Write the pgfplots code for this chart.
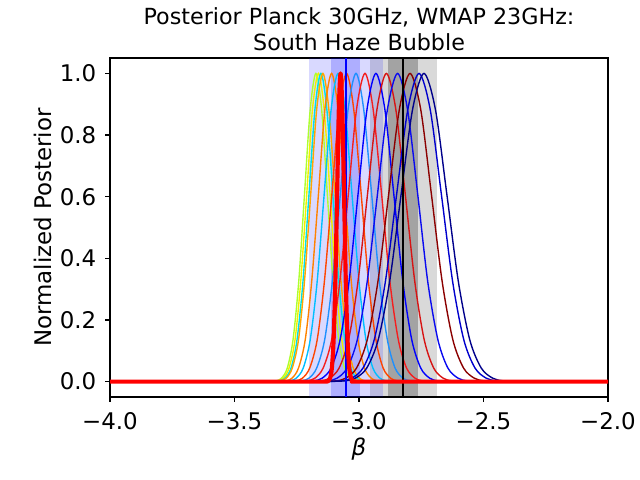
\documentclass[border=0pt]{standalone}
\usepackage{pgfplots}
\pgfplotsset{compat=1.18}
\usepackage{fontspec}
\setmainfont{DejaVu Sans}
\definecolor{cgy}{RGB}{173,255,47}
\definecolor{cyl}{RGB}{240,240,0}
\definecolor{ccy}{RGB}{0,225,230}
\definecolor{cor}{RGB}{255,165,0}
\definecolor{cdo}{RGB}{255,130,0}
\definecolor{cds}{RGB}{0,191,255}
\definecolor{corr}{RGB}{255,69,0}
\definecolor{cdb}{RGB}{30,144,255}
\definecolor{crd}{RGB}{245,30,30}
\definecolor{cbl}{RGB}{0,0,255}
\definecolor{crd2}{RGB}{215,20,20}
\definecolor{cbl2}{RGB}{10,10,240}
\definecolor{cdr}{RGB}{139,0,0}
\definecolor{cmb}{RGB}{0,0,205}
\definecolor{cnv}{RGB}{0,0,139}
\newcommand{\fs}{\fontsize{16bp}{19.2bp}\selectfont}
\newcommand{\ft}{\fontsize{16.5bp}{19.8bp}\selectfont}
\begin{document}
\begin{tikzpicture}
\path[use as bounding box] (0,0) rectangle (460.8bp,345.6bp);
\begin{axis}[
  at={(79.2bp,59.76bp)}, anchor=south west,
  scale only axis, width=358.56bp, height=244.08bp,
  xmin=-4, xmax=-2, ymin=-0.05, ymax=1.05,
  xtick={-4,-3.5,-3,-2.5,-2},
  xticklabels={−4.0,−3.5,−3.0,−2.5,−2.0},
  ytick={0,0.2,0.4,0.6,0.8,1},
  yticklabels={0.0,0.2,0.4,0.6,0.8,1.0},
  tick pos=left, tick align=outside,
  major tick length=3.5bp,
  every tick/.style={black, line width=0.8bp},
  axis line style={line width=0.8bp},
  xticklabel style={font=\ft, anchor=base, inner sep=0pt, yshift=-20.16bp},
  yticklabel style={font=\ft, anchor=east, inner sep=0pt, xshift=-6.2bp},
  every axis plot/.append style={line width=1bp},
]
% shaded bands
\addplot[draw=none, fill=black, fill opacity=0.15] coordinates {(-2.956,-0.05) (-2.688,-0.05) (-2.688,1.05) (-2.956,1.05)} --cycle;
\addplot[draw=none, fill=black, fill opacity=0.25] coordinates {(-2.882,-0.05) (-2.762,-0.05) (-2.762,1.05) (-2.882,1.05)} --cycle;
\addplot[draw=none, fill=blue, fill opacity=0.15] coordinates {(-3.202,-0.05) (-2.904,-0.05) (-2.904,1.05) (-3.202,1.05)} --cycle;
\addplot[draw=none, fill=blue, fill opacity=0.2] coordinates {(-3.111,-0.05) (-2.995,-0.05) (-2.995,1.05) (-3.111,1.05)} --cycle;
% curves
\addplot[cgy, smooth] coordinates {(-3.380,0) (-3.334,0.0022) (-3.311,0.0111) (-3.288,0.0439) (-3.265,0.1353) (-3.242,0.3247) (-3.219,0.6065) (-3.196,0.8825) (-3.173,1) (-3.150,0.8825) (-3.127,0.6065) (-3.104,0.3247) (-3.081,0.1353) (-3.058,0.0439) (-3.035,0.0111) (-3.012,0.0022) (-2.966,0)};
\addplot[cyl, smooth] coordinates {(-3.375,0) (-3.328,0.0022) (-3.304,0.0111) (-3.281,0.0439) (-3.257,0.1353) (-3.234,0.3247) (-3.210,0.6065) (-3.187,0.8825) (-3.163,1) (-3.140,0.8825) (-3.116,0.6065) (-3.093,0.3247) (-3.069,0.1353) (-3.046,0.0439) (-3.022,0.0111) (-2.999,0.0022) (-2.952,0)};
\addplot[ccy, smooth] coordinates {(-3.369,0) (-3.321,0.0022) (-3.297,0.0111) (-3.273,0.0439) (-3.249,0.1353) (-3.225,0.3247) (-3.201,0.6065) (-3.177,0.8825) (-3.153,1) (-3.129,0.8825) (-3.105,0.6065) (-3.081,0.3247) (-3.057,0.1353) (-3.033,0.0439) (-3.009,0.0111) (-2.985,0.0022) (-2.937,0)};
\addplot[cor, smooth] coordinates {(-3.366,0) (-3.317,0.0022) (-3.292,0.0111) (-3.268,0.0439) (-3.243,0.1353) (-3.219,0.3247) (-3.194,0.6065) (-3.170,0.8825) (-3.145,1) (-3.121,0.8825) (-3.096,0.6065) (-3.072,0.3247) (-3.047,0.1353) (-3.023,0.0439) (-2.998,0.0111) (-2.974,0.0022) (-2.925,0)};
\addplot[cdo, smooth] coordinates {(-3.349,0) (-3.296,0.0022) (-3.269,0.0111) (-3.243,0.0439) (-3.216,0.1353) (-3.190,0.3247) (-3.163,0.6065) (-3.137,0.8825) (-3.110,1) (-3.084,0.8825) (-3.057,0.6065) (-3.031,0.3247) (-3.004,0.1353) (-2.978,0.0439) (-2.951,0.0111) (-2.925,0.0022) (-2.872,0)};
\addplot[cds, smooth] coordinates {(-3.336,0) (-3.280,0.0022) (-3.252,0.0111) (-3.224,0.0439) (-3.196,0.1353) (-3.168,0.3247) (-3.140,0.6065) (-3.112,0.8825) (-3.084,1) (-3.056,0.8825) (-3.028,0.6065) (-3.000,0.3247) (-2.972,0.1353) (-2.944,0.0439) (-2.916,0.0111) (-2.888,0.0022) (-2.832,0)};
\addplot[corr, smooth] coordinates {(-3.316,0) (-3.257,0.0022) (-3.227,0.0111) (-3.198,0.0439) (-3.168,0.1353) (-3.139,0.3247) (-3.109,0.6065) (-3.080,0.8825) (-3.050,1) (-3.021,0.8825) (-2.991,0.6065) (-2.962,0.3247) (-2.932,0.1353) (-2.903,0.0439) (-2.873,0.0111) (-2.844,0.0022) (-2.785,0)};
\addplot[cdb, smooth] coordinates {(-3.296,0) (-3.233,0.0022) (-3.201,0.0111) (-3.170,0.0439) (-3.138,0.1353) (-3.107,0.3247) (-3.075,0.6065) (-3.044,0.8825) (-3.012,1) (-2.981,0.8825) (-2.949,0.6065) (-2.918,0.3247) (-2.886,0.1353) (-2.855,0.0439) (-2.823,0.0111) (-2.792,0.0022) (-2.729,0)};
\addplot[crd, smooth] coordinates {(-3.278,0) (-3.211,0.0022) (-3.177,0.0111) (-3.144,0.0439) (-3.110,0.1353) (-3.077,0.3247) (-3.043,0.6065) (-3.010,0.8825) (-2.976,1) (-2.943,0.8825) (-2.909,0.6065) (-2.876,0.3247) (-2.842,0.1353) (-2.809,0.0439) (-2.775,0.0111) (-2.742,0.0022) (-2.675,0)};
\addplot[cbl, smooth] coordinates {(-3.256,0) (-3.184,0.0022) (-3.148,0.0111) (-3.112,0.0439) (-3.076,0.1353) (-3.040,0.3247) (-3.004,0.6065) (-2.968,0.8825) (-2.932,1) (-2.896,0.8825) (-2.860,0.6065) (-2.824,0.3247) (-2.788,0.1353) (-2.752,0.0439) (-2.716,0.0111) (-2.680,0.0022) (-2.608,0)};
\addplot[crd2, smooth] coordinates {(-3.232,0) (-3.156,0.0022) (-3.118,0.0111) (-3.080,0.0439) (-3.042,0.1353) (-3.004,0.3247) (-2.966,0.6065) (-2.928,0.8825) (-2.890,1) (-2.852,0.8825) (-2.814,0.6065) (-2.776,0.3247) (-2.738,0.1353) (-2.700,0.0439) (-2.662,0.0111) (-2.624,0.0022) (-2.548,0)};
\addplot[cbl2, smooth] coordinates {(-3.210,0) (-3.129,0.0022) (-3.088,0.0111) (-3.048,0.0439) (-3.007,0.1353) (-2.967,0.3247) (-2.926,0.6065) (-2.886,0.8825) (-2.845,1) (-2.805,0.8825) (-2.764,0.6065) (-2.724,0.3247) (-2.683,0.1353) (-2.643,0.0439) (-2.602,0.0111) (-2.562,0.0022) (-2.481,0)};
\addplot[cdr, smooth] coordinates {(-3.182,0) (-3.096,0.0022) (-3.053,0.0111) (-3.010,0.0439) (-2.967,0.1353) (-2.924,0.3247) (-2.881,0.6065) (-2.838,0.8825) (-2.795,1) (-2.752,0.8825) (-2.709,0.6065) (-2.666,0.3247) (-2.623,0.1353) (-2.580,0.0439) (-2.537,0.0111) (-2.494,0.0022) (-2.408,0)};
\addplot[cmb, smooth] coordinates {(-3.164,0) (-3.074,0.0022) (-3.029,0.0111) (-2.984,0.0439) (-2.939,0.1353) (-2.894,0.3247) (-2.849,0.6065) (-2.804,0.8825) (-2.759,1) (-2.714,0.8825) (-2.669,0.6065) (-2.624,0.3247) (-2.579,0.1353) (-2.534,0.0439) (-2.489,0.0111) (-2.444,0.0022) (-2.354,0)};
\addplot[cnv, smooth] coordinates {(-3.153,0) (-3.061,0.0022) (-3.015,0.0111) (-2.969,0.0439) (-2.923,0.1353) (-2.877,0.3247) (-2.831,0.6065) (-2.785,0.8825) (-2.739,1) (-2.693,0.8825) (-2.647,0.6065) (-2.601,0.3247) (-2.555,0.1353) (-2.509,0.0439) (-2.463,0.0111) (-2.417,0.0022) (-2.325,0)};
% vertical lines
\addplot[blue, line width=1.5bp] coordinates {(-3.053,-0.05) (-3.053,1.05)};
\addplot[black, line width=1.5bp] coordinates {(-2.822,-0.05) (-2.822,1.05)};
% thick red
\addplot[red, line width=3bp, smooth, line join=round] coordinates {(-4,0) (-3.2,0) (-3.137,0) (-3.123,0.0022) (-3.116,0.0111) (-3.109,0.0439) (-3.102,0.1353) (-3.095,0.3247) (-3.088,0.6065) (-3.081,0.8825) (-3.074,1) (-3.067,0.8825) (-3.060,0.6065) (-3.053,0.3247) (-3.046,0.1353) (-3.039,0.0439) (-3.032,0.0111) (-3.025,0.0022) (-3.011,0) (-2.95,0) (-2,0)};
\end{axis}
\node[font=\fs, anchor=base, inner sep=0pt] at (258.5bp,328.3bp) {Posterior Planck 30GHz, WMAP 23GHz:};
\node[font=\fs, anchor=base, inner sep=0pt] at (258.5bp,309.1bp) {South Haze Bubble};
\node[font=\ft, anchor=base, inner sep=0pt, rotate=90] at (37.0bp,181.8bp) {Normalized Posterior};
\node[font=\ft\itshape, anchor=base, inner sep=0pt] at (258.5bp,17.3bp) {β};
\end{tikzpicture}
\end{document}
